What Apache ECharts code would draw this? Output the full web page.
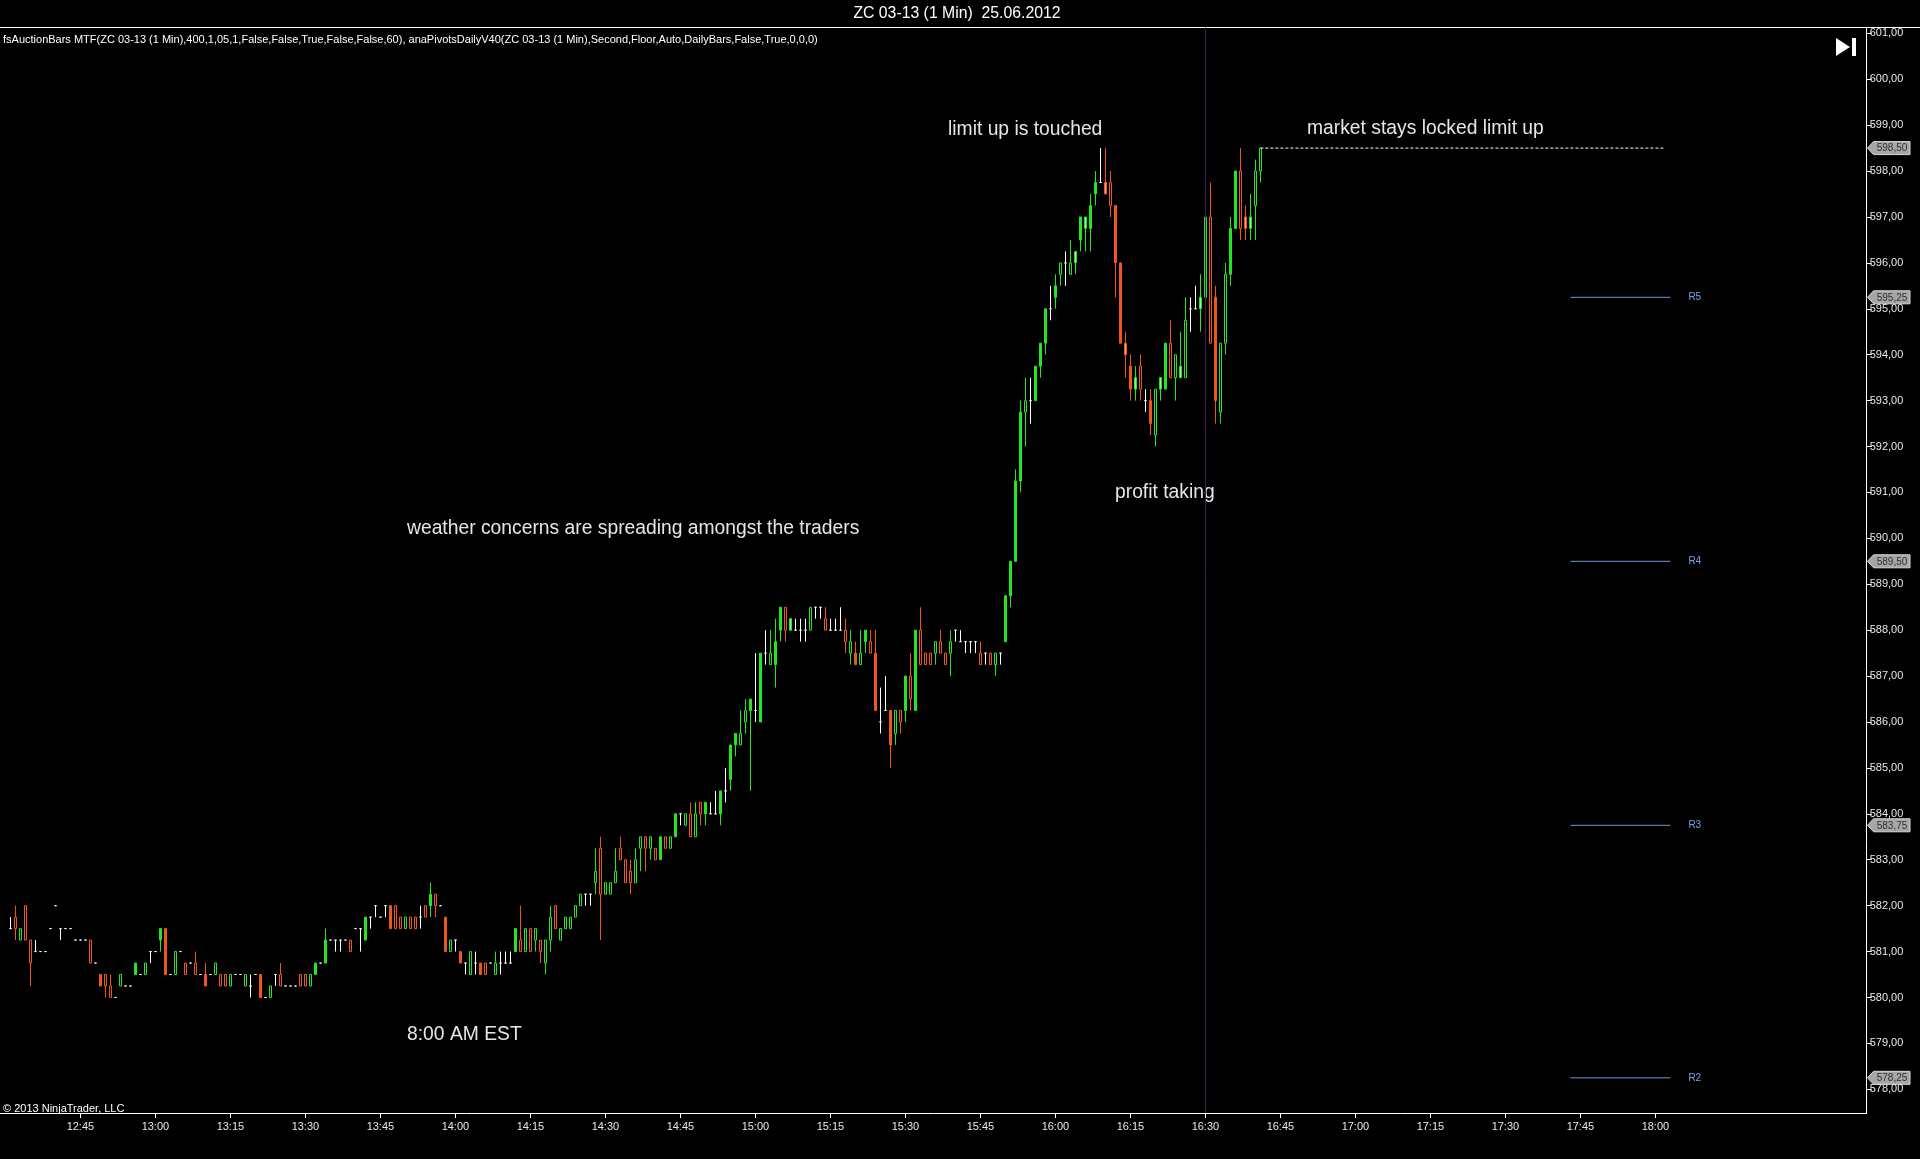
<!DOCTYPE html>
<html><head><meta charset="utf-8">
<script src="https://cdn.jsdelivr.net/npm/echarts@6/dist/echarts.min.js"></script>
<style>html,body{margin:0;padding:0;background:#000;}#c{width:1920px;height:1159px;}</style>
</head><body><div id="c"></div>
<script>
// ---------- data ----------
const firstBarTime = '12:31';   // 1-minute bars, consecutive
const opens = [
581.5,581.75,581.25,582.0,581.25,581.0,581.0,581.0,581.5,582.0,
581.5,581.5,581.5,581.25,581.25,581.25,581.25,580.75,580.5,580.5,
580.25,580.0,580.25,580.25,580.25,580.5,580.5,580.5,581.0,581.0,
581.25,581.5,580.5,580.5,581.0,580.75,580.75,580.75,580.5,580.5,
580.5,580.5,580.5,580.5,580.25,580.5,580.5,580.25,580.25,580.5,
580.5,580.0,580.0,580.5,580.5,580.25,580.25,580.25,580.5,580.5,
580.25,580.5,580.75,580.75,581.25,581.25,581.25,581.25,581.25,581.5,
581.5,581.25,581.75,582.0,581.75,582.0,582.0,582.0,581.75,581.5,
581.75,581.75,581.75,582.0,582.0,582.25,582.0,581.75,581.0,581.25,
581.0,580.75,580.5,580.75,580.75,580.75,580.75,580.5,580.75,580.75,
580.75,581.0,581.25,581.0,581.5,581.25,581.25,580.75,581.25,582.0,
581.25,581.5,581.5,581.75,582.0,582.25,582.25,582.5,583.25,582.25,
582.25,582.5,583.25,583.0,582.75,582.5,583.25,583.5,583.25,583.25,
583.0,583.5,583.25,583.5,584.0,583.75,584.0,583.5,584.25,584.0,
584.0,584.0,584.0,584.5,584.75,585.5,585.5,586.0,586.25,586.25,
586.0,587.5,587.25,587.25,588.0,588.5,588.0,588.0,588.0,588.0,
588.0,588.5,588.5,588.25,588.0,588.0,588.0,588.0,587.5,587.5,
587.25,587.75,587.75,587.5,586.0,586.25,586.25,585.75,586.25,586.25,
587.0,586.25,588.0,587.5,587.5,587.5,587.75,587.5,587.5,588.0,
587.75,587.75,587.75,587.75,587.5,587.5,587.5,587.25,587.5,587.75,
588.75,589.5,591.25,592.75,593.0,593.0,593.75,594.25,595.0,595.25,
595.75,596.0,595.75,596.0,596.5,596.75,596.75,597.5,597.75,597.75,
597.75,597.25,596.0,594.25,593.75,593.25,593.75,593.0,593.0,592.25,
593.25,593.25,594.25,593.5,593.5,593.5,595.0,595.0,595.0,595.25,
597.0,595.25,592.75,594.25,595.75,596.75,598.0,597.0,596.75,597.25,598.0];
const closes = [
581.5,581.5,581.5,581.25,580.75,581.0,581.0,581.0,581.5,582.0,
581.5,581.5,581.5,581.25,581.25,581.25,580.75,580.75,580.25,580.25,
580.0,580.0,580.5,580.25,580.25,580.75,580.5,580.75,581.0,581.0,
581.5,580.5,580.5,581.0,581.0,580.5,580.75,580.5,580.5,580.25,
580.5,580.75,580.25,580.25,580.5,580.5,580.5,580.5,580.25,580.5,
580.0,580.0,580.25,580.5,580.25,580.25,580.25,580.25,580.25,580.25,
580.5,580.75,580.75,581.25,581.25,581.25,581.25,581.25,581.0,581.5,
581.5,581.75,581.75,582.0,581.75,582.0,581.5,581.5,581.5,581.75,
581.5,581.5,581.75,581.75,582.25,582.0,582.0,581.0,581.25,581.25,
580.75,580.75,581.0,580.75,580.5,580.5,580.75,580.75,580.75,580.75,
580.75,581.5,581.0,581.5,581.0,581.5,581.0,581.25,581.75,581.5,
581.5,581.75,581.75,582.0,582.25,582.25,582.25,582.75,582.25,582.5,
582.5,582.75,583.0,582.5,582.5,583.0,583.5,583.25,583.5,583.0,
583.5,583.25,583.5,584.0,584.0,584.0,583.5,584.0,584.0,584.25,
584.0,584.0,584.5,584.5,585.5,585.75,585.75,586.25,586.5,586.25,
587.5,587.5,587.5,587.75,588.5,588.0,588.25,588.0,588.0,588.0,
588.5,588.5,588.5,588.0,588.0,588.0,588.0,587.75,587.75,587.25,
587.5,588.0,587.5,586.25,586.0,586.25,585.5,586.25,586.0,587.0,
586.5,588.0,587.25,587.25,587.25,587.75,587.5,587.25,587.75,588.0,
587.75,587.75,587.75,587.75,587.25,587.5,587.25,587.5,587.5,588.75,
589.5,591.25,592.75,593.0,593.0,593.75,594.25,595.0,595.0,595.5,
596.0,596.0,596.0,596.25,597.0,597.0,597.25,597.75,597.75,597.5,
597.25,596.0,594.25,594.0,593.25,593.5,593.25,593.0,592.5,593.25,
593.5,594.25,593.5,594.0,593.75,594.75,595.0,595.0,595.25,597.0,
594.25,593.0,594.25,595.75,596.75,598.0,596.75,596.75,597.0,598.0,598.5];
const lows = [
581.5,581.25,581.25,581.25,580.25,581.0,581.0,581.0,581.5,582.0,
581.25,581.5,581.5,581.25,581.25,581.25,580.75,580.75,580.25,580.0,
580.0,580.0,580.25,580.25,580.25,580.5,580.5,580.5,580.75,581.0,
581.0,580.5,580.5,580.5,581.0,580.5,580.75,580.5,580.5,580.25,
580.5,580.5,580.25,580.25,580.25,580.5,580.5,580.25,580.0,580.5,
580.0,580.0,580.0,580.25,580.25,580.25,580.25,580.25,580.25,580.25,
580.25,580.5,580.75,580.75,581.25,581.0,581.0,581.25,581.0,581.5,
581.0,581.25,581.5,581.75,581.75,581.75,581.5,581.5,581.5,581.5,
581.5,581.5,581.5,581.75,581.75,581.75,582.0,581.0,581.0,581.0,
580.75,580.5,580.5,580.5,580.5,580.5,580.75,580.5,580.5,580.75,
580.75,581.0,581.0,581.0,581.0,581.0,580.75,580.5,581.0,581.5,
581.25,581.5,581.5,581.75,582.0,582.0,582.0,582.25,581.25,582.25,
582.25,582.5,583.0,582.5,582.25,582.5,582.75,582.75,583.0,583.0,
583.0,583.25,583.25,583.5,583.75,583.75,583.5,583.5,583.75,583.75,
584.0,584.0,583.75,584.25,584.5,585.25,585.5,585.75,584.5,586.0,
586.0,587.25,587.25,586.75,587.75,587.75,588.0,588.0,587.75,587.75,
588.0,588.25,588.25,588.0,588.0,588.0,588.0,587.5,587.25,587.25,
587.25,587.5,587.5,586.25,585.75,586.25,585.0,585.5,585.75,586.0,
586.25,586.25,587.25,587.25,587.25,587.25,587.5,587.25,587.0,587.75,
587.75,587.5,587.5,587.5,587.25,587.25,587.25,587.0,587.25,587.75,
588.5,589.5,591.0,592.0,592.5,593.0,593.5,594.0,594.75,595.0,
595.5,595.5,595.75,595.75,596.25,596.25,596.25,597.25,597.75,597.5,
597.0,595.25,594.25,593.5,593.0,593.0,593.0,592.75,592.25,592.0,
593.0,593.25,593.5,593.0,593.5,593.5,594.5,595.0,594.5,593.75,
594.25,592.5,592.5,594.0,595.5,596.75,596.5,596.5,596.5,596.5,597.75];
const highs = [
581.75,582.0,581.5,582.0,581.25,581.25,581.0,581.0,581.5,582.0,
581.5,581.5,581.5,581.25,581.25,581.25,581.25,580.75,580.5,580.5,
580.5,580.0,580.5,580.25,580.25,580.75,580.5,580.75,581.0,581.0,
581.5,581.5,580.5,581.0,581.0,580.75,580.75,581.0,580.5,580.75,
580.5,580.75,580.5,580.5,580.5,580.5,580.5,580.5,580.5,580.5,
580.5,580.0,580.25,580.5,580.75,580.25,580.25,580.25,580.5,580.5,
580.5,580.75,580.75,581.5,581.25,581.25,581.25,581.25,581.25,581.5,
581.5,581.75,581.75,582.0,581.75,582.0,582.0,582.0,581.75,581.75,
581.75,581.75,582.0,582.0,582.5,582.25,582.0,581.75,581.25,581.25,
581.0,580.75,581.0,581.0,580.75,580.75,580.75,581.0,581.0,581.0,
581.0,581.5,582.0,581.5,581.5,581.5,581.25,581.25,582.0,582.0,
581.5,581.75,581.75,582.0,582.25,582.25,582.25,583.25,583.5,582.5,
582.5,583.25,583.5,583.0,583.0,583.25,583.5,583.5,583.5,583.25,
583.5,583.5,583.5,584.0,584.0,584.0,584.25,584.25,584.25,584.25,
584.25,584.5,584.5,585.0,585.5,585.75,586.25,586.5,586.5,587.5,
587.5,588.0,588.0,588.25,588.5,588.5,588.25,588.25,588.25,588.25,
588.5,588.5,588.5,588.5,588.25,588.25,588.5,588.25,588.0,587.75,
588.0,588.0,588.0,588.0,586.75,587.0,586.25,586.25,586.25,587.0,
587.5,588.0,588.5,587.5,587.5,587.75,588.0,587.5,588.0,588.0,
588.0,587.75,587.75,587.75,587.75,587.5,587.5,587.5,587.5,588.75,
589.5,591.5,593.0,593.5,593.5,593.75,594.25,595.0,595.5,595.75,
596.0,596.25,596.5,596.25,597.0,597.0,597.5,598.0,598.5,598.5,
598.0,597.25,596.0,594.5,594.0,593.75,594.0,593.25,593.25,593.25,
593.5,594.25,594.75,594.0,594.5,595.25,595.25,595.5,595.75,597.0,
597.75,595.5,594.25,596.0,597.0,598.0,598.5,597.25,597.5,598.25,598.5];
// body fill of each bar: 0 hollow, 1 light, 2 solid
const fills = [
0,0,0,0,0,0,0,0,0,0, 0,0,0,0,0,0,0,0,2,0, 0,0,0,0,0,2,0,0,0,0,
2,2,0,0,0,0,0,0,0,2, 0,0,0,0,0,0,0,0,0,0, 2,0,0,0,0,0,0,0,0,0,
0,2,0,2,0,0,0,0,0,0, 0,2,0,0,0,0,2,0,0,0, 0,0,0,0,2,0,0,2,0,0,
2,0,0,0,2,0,0,0,0,0, 0,2,0,0,0,0,0,0,0,0, 0,0,0,0,0,0,0,0,0,0,
0,0,0,0,0,0,0,0,0,0, 2,0,0,2,0,0,0,0,0,2, 0,0,2,0,2,2,0,0,2,0,
2,0,0,2,2,0,1,0,0,0, 0,0,0,0,0,0,0,0,0,2, 0,2,0,2,0,0,2,0,0,2,
0,2,0,0,0,0,0,0,0,0, 0,0,0,0,0,0,0,0,0,2, 2,2,2,0,0,2,2,2,0,2,
0,0,0,1,2,1,2,2,0,1, 0,2,2,1,2,1,0,0,2,0, 1,2,0,0,1,0,0,0,1,2,
0,2,0,0,2,2,0,1,1,0,0];

const xTickLabels = ['12:45','13:00','13:15','13:30','13:45','14:00','14:15','14:30','14:45','15:00','15:15','15:30','15:45','16:00','16:15','16:30','16:45','17:00','17:15','17:30','17:45','18:00'];
const yTickValues = [578,579,580,581,582,583,584,585,586,587,588,589,590,591,592,593,594,595,596,597,598,599,600,601];

const lastPrice = 598.5;
const lockedLineTimes = ['16:41', '18:02'];
const pivotNames = ['R5', 'R4', 'R3', 'R2'];
const pivotValues = [595.25, 589.5, 583.75, 578.25];
const pivotTimes = ['17:43', '18:03'];
const sessionMarkerTime = '16:30';

const titleText = 'ZC 03-13 (1 Min)  25.06.2012';
const indicatorText = 'fsAuctionBars MTF(ZC 03-13 (1 Min),400,1,05,1,False,False,True,False,False,60), anaPivotsDailyV40(ZC 03-13 (1 Min),Second,Floor,Auto,DailyBars,False,True,0,0,0)';
const copyrightText = '\u00a9 2013 NinjaTrader, LLC';

// ---------- helpers ----------
const toMin = s => { const [h, m] = s.split(':').map(Number); return h * 60 + m; };
const fmtTime = v => { const h = Math.floor(v / 60), m = Math.round(v - h * 60); return h + ':' + String(m).padStart(2, '0'); };
const fmtPrice = v => v.toFixed(2).replace('.', ',');

const GREEN = '#22e622', RED = '#f0561c', WHITE = '#ffffff';
const LGREEN = '#9cf09c', LRED = '#f5a888';
const start = toMin(firstBarTime);
const candleData = opens.map((o, i) => {
  const c = closes[i];
  const up = c > o, down = c < o;
  const col = up ? GREEN : (down ? RED : WHITE);
  const light = up ? LGREEN : LRED;
  const fillCol = fills[i] === 2 ? col : (fills[i] === 1 ? light : '#000000');
  return {
    value: [start + i, o, c, lows[i], highs[i]],
    itemStyle: { color: fillCol, color0: fillCol, borderColor: col, borderColor0: col, borderColorDoji: WHITE, borderWidth: 1 }
  };
});

const FONT = '"Liberation Sans", Arial, sans-serif';
const chart = echarts.init(document.getElementById('c'), null, { renderer: 'canvas' });

const pivotSeries = pivotNames.map((n, i) => ({
  type: 'line', name: n, silent: true, symbol: 'none', animation: false,
  data: pivotTimes.map(t => [toMin(t), pivotValues[i]]),
  lineStyle: { color: '#6a9ad8', width: 1 },
  endLabel: { show: true, formatter: n, color: '#7aa6e0', fontSize: 10, fontFamily: FONT, distance: 18 }
}));

chart.setOption({
  backgroundColor: '#000',
  animation: false,
  grid: { left: 0, right: 53.3, top: 27.3, bottom: 46 },
  xAxis: {
    type: 'value', min: 748.92, max: 1122.26,
    axisLine: { show: true, lineStyle: { color: '#ffffff', width: 1 } },
    axisTick: { show: true, length: 5, lineStyle: { color: '#ffffff' }, customValues: xTickLabels.map(toMin) },
    axisLabel: { color: '#e8e8e8', fontSize: 11, fontFamily: FONT, margin: 8, customValues: xTickLabels.map(toMin), formatter: v => fmtTime(v) },
    splitLine: { show: false }
  },
  yAxis: {
    type: 'value', position: 'right', min: 577.484, max: 601.131, scale: true,
    axisLine: { show: true, lineStyle: { color: '#ffffff', width: 1 } },
    axisTick: { show: true, length: 5, lineStyle: { color: '#ffffff' }, customValues: yTickValues },
    axisLabel: { color: '#e8e8e8', fontSize: 11, fontFamily: FONT, margin: 3, customValues: yTickValues, formatter: v => fmtPrice(v) },
    splitLine: { show: false }
  },
  series: [
    {
      type: 'candlestick', silent: true, barWidth: 3,
      encode: { x: 0, y: [1, 2, 3, 4] },
      data: candleData,
      markLine: {
        silent: true, symbol: ['none', 'none'], label: { show: false },
        lineStyle: { color: '#3e1e52', width: 1, type: 'solid' },
        data: [{ xAxis: toMin(sessionMarkerTime) }]
      }
    },
    {
      type: 'line', silent: true, symbol: 'none',
      data: lockedLineTimes.map(t => [toMin(t), lastPrice]),
      lineStyle: { color: '#ffffff', width: 1, type: [3, 2] }
    },
    ...pivotSeries
  ]
});

// ---------- decorations: text and price tags ----------
function txt(text, x, y, size, color, align, extra) {
  return Object.assign({ type: 'text', x: x, y: y, silent: true,
    style: { text: text, fill: color, font: size + 'px ' + FONT, textAlign: align || 'left', textVerticalAlign: 'middle' } }, extra || {});
}
const g = [];
g.push({ type: 'line', silent: true, shape: { x1: 0, y1: 27.5, x2: 1920, y2: 27.5 }, style: { stroke: '#ffffff', lineWidth: 1 } });
g.push(txt(titleText, 957, 14, 15.8, '#ffffff', 'center'));
g.push(txt(indicatorText, 3, 40, 11, '#ffffff', 'left'));
g.push(txt(copyrightText, 3, 1108.5, 11, '#ffffff', 'left'));
g.push(txt('limit up is touched', 948, 129.5, 19.3, '#e6e6e6', 'left'));
g.push(txt('market stays locked limit up', 1307, 128.5, 19.3, '#e6e6e6', 'left'));
g.push(txt('profit taking', 1115, 493, 19.3, '#e6e6e6', 'left'));
g.push(txt('weather concerns are spreading amongst the traders', 407, 528.5, 19.3, '#e6e6e6', 'left'));
g.push(txt('8:00 AM EST', 407, 1034.5, 19.3, '#e6e6e6', 'left'));
// "go to end" icon
g.push({ type: 'polygon', silent: true, shape: { points: [[1836, 38], [1850, 47], [1836, 56]] }, style: { fill: '#ffffff' } });
g.push({ type: 'rect', silent: true, shape: { x: 1852, y: 38, width: 4, height: 18 }, style: { fill: '#ffffff' } });
// price tags on the axis
[lastPrice].concat(pivotValues).forEach(v => {
  const y = chart.convertToPixel({ yAxisIndex: 0 }, v);
  const x0 = 1867.5;
  g.push({ type: 'polygon', silent: true,
    shape: { points: [[x0, y], [x0 + 6, y - 6.5], [1910, y - 6.5], [1910, y + 6.5], [x0 + 6, y + 6.5]] },
    style: { fill: '#a6a6a6', stroke: '#d8d8d8', lineWidth: 1 } });
  g.push(txt(fmtPrice(v), 1892, y + 0.5, 10, '#303030', 'center'));
});
chart.setOption({ graphic: g });
</script>
</body></html>
